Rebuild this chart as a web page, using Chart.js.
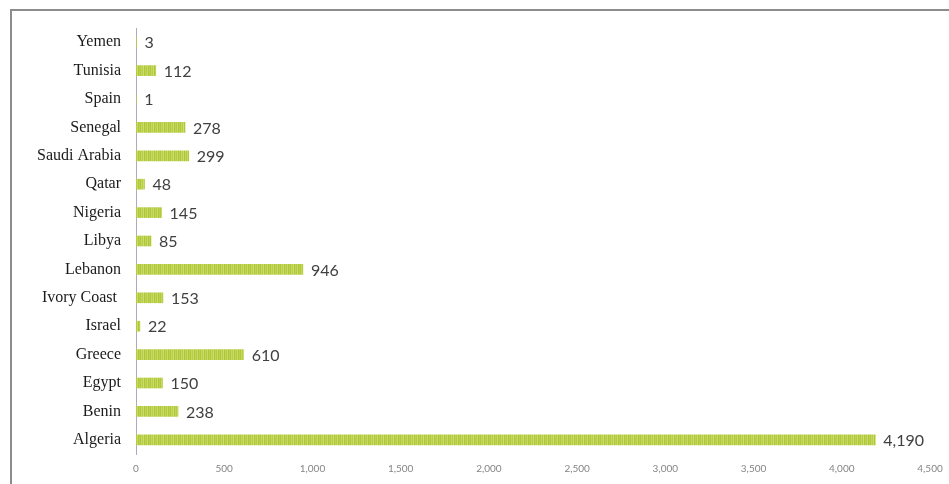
<!DOCTYPE html>
<html>
<head>
<meta charset="utf-8">
<script src="https://cdn.jsdelivr.net/npm/chart.js@4/dist/chart.umd.min.js"></script>
<style>
    html, body { margin: 0; padding: 0; background: #ffffff; overflow: hidden; }
    #wrap { position: relative; width: 949px; height: 484px; }
    #frame { position: absolute; left: 10px; top: 9px; width: 1000px; height: 1000px; border: 2px solid #8c8c8c; box-sizing: border-box; }
    #chart { position: absolute; left: 0; top: 0; }
</style>
</head>
<body>
<div id="wrap">
    <div id="frame"></div>
    <canvas id="chart" width="949" height="484"></canvas>
</div>
<script>
const countries = ['Yemen', 'Tunisia', 'Spain', 'Senegal', 'Saudi Arabia', 'Qatar', 'Nigeria', 'Libya',
    'Lebanon', 'Ivory Coast ', 'Israel', 'Greece', 'Egypt', 'Benin', 'Algeria'];
const counts = [3, 112, 1, 278, 299, 48, 145, 85, 946, 153, 22, 610, 150, 238, 4190];
const xTickMin = 0;
const xTickMax = 4500;
const xTickStep = 500;

// soft striped green fill like the original
function makeStripes() {
    const c = document.createElement('canvas');
    const cols = ['#b2c93a', '#c3d761', '#b8ce46', '#cbdc72', '#afc735', '#bfd458', '#b5cc40', '#c7da6a', '#b0c838', '#bcd14f'];
    c.width = cols.length;
    c.height = 4;
    const g = c.getContext('2d');
    cols.forEach(function (col, i) {
        g.fillStyle = col;
        g.fillRect(i, 0, 1, 4);
    });
    return g.createPattern(c, 'repeat');
}

const valueLabels = {
    id: 'valueLabels',
    afterDatasetsDraw: function (chart) {
        const ctx = chart.ctx;
        const meta = chart.getDatasetMeta(0);
        ctx.save();
        ctx.font = '16px Lato, "Open Sans", sans-serif';
        ctx.fillStyle = '#404040';
        ctx.textBaseline = 'middle';
        ctx.textAlign = 'left';
        meta.data.forEach(function (bar, i) {
            ctx.fillText(counts[i].toLocaleString('en-US'), bar.x + 8, bar.y + 1);
        });
        ctx.restore();
    }
};

new Chart(document.getElementById('chart'), {
    type: 'bar',
    data: {
        labels: countries,
        datasets: [{
            data: counts,
            backgroundColor: makeStripes(),
            borderWidth: 0,
            barThickness: 10
        }]
    },
    options: {
        indexAxis: 'y',
        responsive: false,
        animation: false,
        layout: { padding: { top: 28, right: 19, left: 0, bottom: 0 } },
        plugins: {
            legend: { display: false },
            tooltip: { enabled: false }
        },
        scales: {
            x: {
                min: xTickMin,
                max: xTickMax,
                grid: { display: false, drawTicks: false },
                border: { display: false },
                ticks: {
                    stepSize: xTickStep,
                    padding: 9,
                    color: '#858585',
                    maxRotation: 0,
                    font: { family: 'Lato, "Open Sans", sans-serif', size: 10 }
                },
                afterFit: function (scale) {
                    scale.height = 30;
                    scale.paddingLeft = 0;
                    scale.paddingRight = 0;
                }
            },
            y: {
                grid: { display: false, drawTicks: false },
                border: { display: true, color: '#a9adbb', width: 1 },
                ticks: {
                    padding: 15,
                    color: '#1a1a1a',
                    font: { family: '"Liberation Serif", "DejaVu Serif", serif', size: 16 }
                },
                afterFit: function (scale) { scale.width = 136; }
            }
        }
    },
    plugins: [valueLabels]
});
</script>
</body>
</html>
